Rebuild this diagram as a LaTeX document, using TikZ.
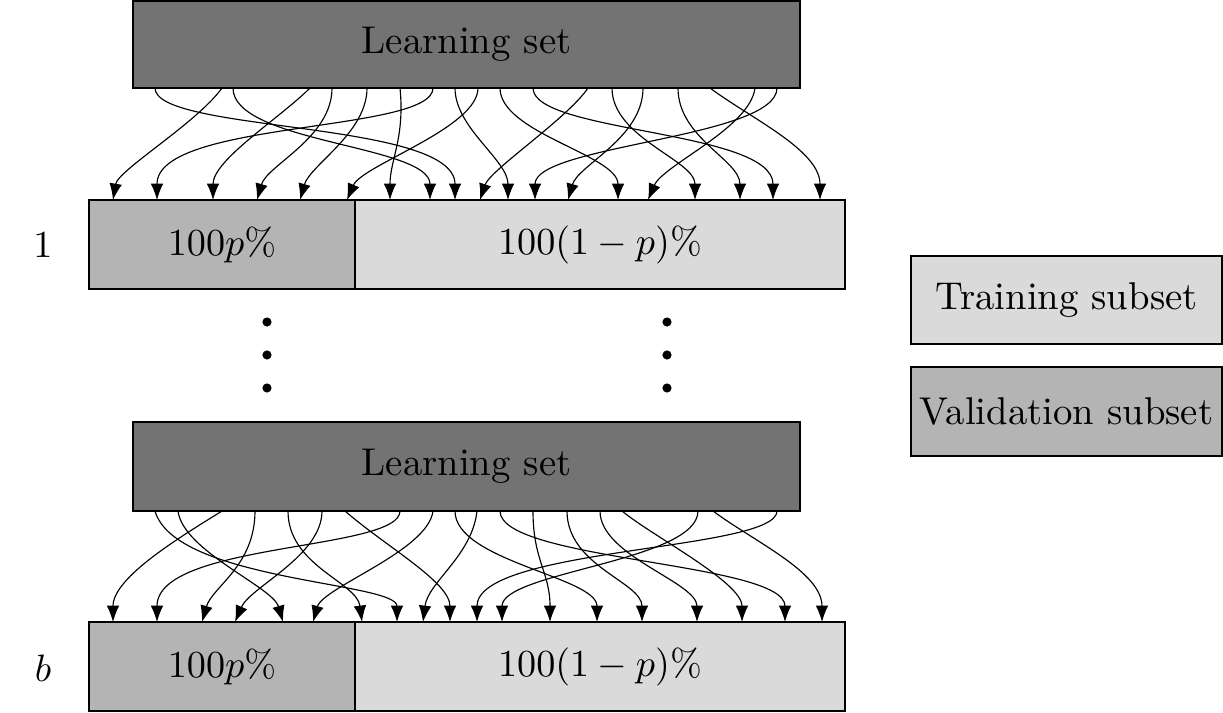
\documentclass[tikz,border=0pt]{standalone}
\usetikzlibrary{arrows.meta}
\definecolor{learn}{gray}{0.45}
\definecolor{valid}{gray}{0.705}
\definecolor{train}{gray}{0.855}
\begin{document}
\begin{tikzpicture}[x=0.262pt,y=-0.262pt,
  font=\fontsize{10.15}{12}\selectfont,
  box/.style args={#1/#2}{draw=black, line width=0.35pt, inner sep=0pt, outer sep=0pt,
     minimum width=#1*0.262pt, minimum height=#2*0.262pt},
  arr/.style={-{Latex[length=4.3pt,width=3.3pt]}, line width=0.3pt},
  vdot/.style={circle, fill=black, draw=none, inner sep=0pt, minimum size=2.4pt}]
\useasboundingbox (0,0) rectangle (1223,713);

% first learning set and split
\node[box=667/87, fill=learn] (L1) at (466.5,44.5) {Learning set};
\node[box=266/89, fill=valid] (V1) at (222,244.5) {$100p\%$};
\node[box=490/89, fill=train] (T1) at (600,244.5) {$100(1-p)\%$};
\node (n1) at (43,245) {$1$};

% dots
\node[vdot] (d1) at (267,322) {};
\node[vdot] (d2) at (267,355) {};
\node[vdot] (d3) at (267,388) {};
\node[vdot] (d4) at (667,322) {};
\node[vdot] (d5) at (667,355) {};
\node[vdot] (d6) at (667,388) {};

% second learning set and split
\node[box=667/89, fill=learn] (L2) at (466.5,466.5) {Learning set};
\node[box=266/89, fill=valid] (V2) at (222,666.5) {$100p\%$};
\node[box=490/89, fill=train] (T2) at (600,666.5) {$100(1-p)\%$};
\node (nb) at (43,668) {$b$};

% legend
\node[box=311/88, fill=train] (LT) at (1066.5,300) {Training subset};
\node[box=311/89, fill=valid] (LV) at (1066.5,411.5) {Validation subset};

% arrows, first split
\foreach \sx/\ex/\ax/\ay/\bx/\by [count=\i] in {
  155/455/0/45/0/-80, 233/430/0/55/0/-55, 222/113/-25/35/5/-30,
  310/213/-30/30/0/-40, 332/257/0/50/10/-35, 367/300/0/45/10/-35,
  400/390/5/50/0/-40, 433/157/0/45/0/-80, 478/347/0/40/15/-35,
  455/508/0/40/0/-40, 588/480/-20/30/10/-30, 500/618/0/45/0/-45,
  533/773/0/45/0/-70, 643/568/0/50/10/-35, 612/695/0/50/0/-40,
  678/740/0/50/0/-40, 755/648/-5/40/15/-35, 777/535/0/50/0/-55,
  710/820/40/30/0/-50} {
  \coordinate (s\i) at (\sx,88);
  \coordinate (e\i) at (\ex,200);
  \draw[arr] (s\i) .. controls +(\ax,\ay) and +(\bx,\by) .. (e\i);
}

% arrows, last split
\foreach \sx/\ex/\ax/\ay/\bx/\by [count=\i] in {
  155/397/20/70/0/-40, 178/283/5/40/-10/-35, 222/113/-40/25/0/-45,
  255/202/0/55/10/-35, 288/362/0/55/-5/-40, 322/235/0/45/15/-35,
  345/450/40/35/0/-40, 400/157/0/40/0/-80, 433/313/-5/40/10/-35,
  455/597/0/50/0/-45, 477/423/-5/45/5/-40, 500/785/0/50/0/-60,
  533/550/0/50/0/-50, 567/642/0/55/0/-40, 600/697/0/45/0/-40,
  622/742/30/25/0/-40, 698/502/0/50/0/-50, 713/822/40/30/0/-50,
  777/477/0/40/0/-75} {
  \coordinate (t\i) at (\sx,511);
  \coordinate (f\i) at (\ex,622);
  \draw[arr] (t\i) .. controls +(\ax,\ay) and +(\bx,\by) .. (f\i);
}
\end{tikzpicture}
\end{document}
